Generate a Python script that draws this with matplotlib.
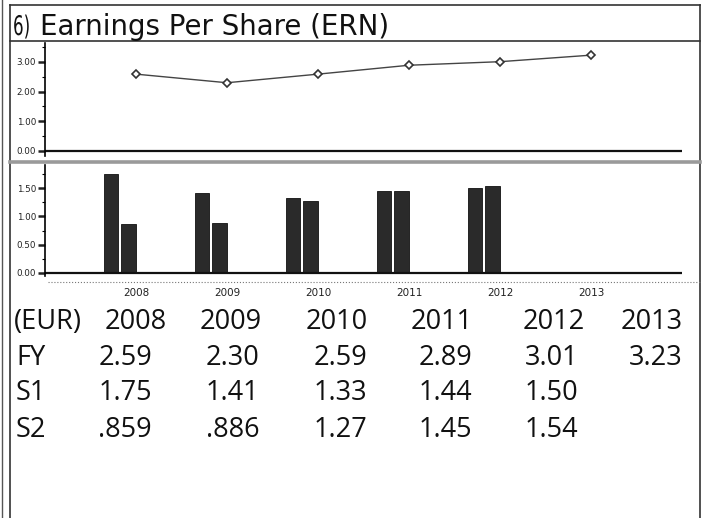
import numpy as np
import matplotlib.pyplot as plt
from matplotlib.lines import Line2D
from matplotlib.patches import PathPatch
from matplotlib.textpath import TextPath
from matplotlib.font_manager import FontProperties
from matplotlib.transforms import Affine2D
from matplotlib.ticker import MultipleLocator, FormatStrFormatter

years = [2008, 2009, 2010, 2011, 2012, 2013]
fy = [2.59, 2.30, 2.59, 2.89, 3.01, 3.23]
s1 = [1.75, 1.41, 1.33, 1.44, 1.50]
s2 = [0.859, 0.886, 1.27, 1.45, 1.54]

fy_txt = ["2.59", "2.30", "2.59", "2.89", "3.01", "3.23"]
s1_txt = ["1.75", "1.41", "1.33", "1.44", "1.50"]
s2_txt = [".859", ".886", "1.27", "1.45", "1.54"]

W, H = 705, 518
fig = plt.figure(figsize=(W / 100, H / 100), dpi=100)


def fx(x):
    return x / W


def fy_(y):
    return 1 - y / H


def axes_px(x0, y0, x1, y1):
    return [fx(x0), fy_(y1), (x1 - x0) / W, (y1 - y0) / H]


dark = "#2a2a2a"

# upper panel: FY line
ax1 = fig.add_axes(axes_px(45, 43, 682, 156))
ax1.plot(years, fy, color="#444444", lw=1.0, marker="D", ms=4,
         mfc="white", mec="#333333", mew=1.2)
ax1.axhline(0, color="#111111", lw=1.6)
ax1.set_xlim(2007, 2014)
ax1.set_ylim(-0.17, 3.64)
ax1.yaxis.set_major_locator(MultipleLocator(1))
ax1.yaxis.set_minor_locator(MultipleLocator(0.5))
ax1.yaxis.set_major_formatter(FormatStrFormatter("%.2f"))

# lower panel: half-year bars
ax2 = fig.add_axes(axes_px(45, 165, 682, 276))
x = np.array(years[:len(s1)])
ax2.bar(x - 0.352, s1, width=0.155, align="edge", color=dark, edgecolor="#111111", lw=0.6)
ax2.bar(x - 0.165, s2, width=0.16, align="edge", color=dark, edgecolor="#111111", lw=0.6)
ax2.axhline(0, color="#111111", lw=1.6)
ax2.set_xlim(2007, 2014)
ax2.set_ylim(-0.053, 1.906)
ax2.yaxis.set_major_locator(MultipleLocator(0.5))
ax2.yaxis.set_minor_locator(MultipleLocator(0.25))
ax2.yaxis.set_major_formatter(FormatStrFormatter("%.2f"))
ax2.set_xticks(years)
ax2.set_xticklabels([str(y) for y in years])

for ax in (ax1, ax2):
    for s in ("top", "right", "bottom"):
        ax.spines[s].set_visible(False)
    ax.spines["left"].set_linewidth(1.2)
    ax.patch.set_alpha(0)
    ax.tick_params(axis="y", which="major", length=5, width=1.8, labelsize=6.3,
                   pad=1.5, colors="#222222")
    ax.tick_params(axis="y", which="minor", length=2.5, width=0.8)
ax1.tick_params(axis="x", bottom=False, labelbottom=False)
ax2.tick_params(axis="x", length=0, labelsize=7.5, pad=9, colors="#222222")

# frame lines
lines = [
    ((10, 700), (5, 5), 1.2, "-", "#333333"),
    ((10, 700), (41, 41), 1.2, "-", "#333333"),
    ((10, 10), (5, 518), 1.2, "-", "#333333"),
    ((2, 2), (0, 518), 1.0, "-", "#555555"),
    ((700, 700), (5, 518), 1.2, "-", "#333333"),
    ((10, 700), (162, 162), 2.6, "-", "#9a9a9a"),
    ((48, 700), (282, 282), 0.8, ":", "#777777"),
]
for xs, ys, lw, ls, c in lines:
    fig.add_artist(Line2D([fx(v) for v in xs], [fy_(v) for v in ys],
                          lw=lw, ls=ls, color=c))

# title: narrow "6)" badge drawn as a squeezed text path (pixel units)
tp = TextPath((0, 0), "6)", size=27, prop=FontProperties(family="DejaVu Sans"))
tr = Affine2D().scale(0.62, 1.0).translate(13, H - 35)
badge = PathPatch(tr.transform_path(tp), facecolor="#111111", edgecolor="none",
                  transform=Affine2D().scale(1 / W, 1 / H) + fig.transFigure)
fig.add_artist(badge)
fig.text(fx(40), fy_(35), "Earnings Per Share (ERN)", fontsize=19.9,
         family="DejaVu Sans", color="#111111", va="baseline", ha="left")

# table
tfont = dict(fontsize=19.5, family="Open Sans", color="#111111", va="baseline")
head_right = [167, 262, 368, 473, 585, 683]
val_right = [152, 259, 367, 472, 578, 683]
rows_y = [329, 365, 400, 437]

fig.text(fx(14), fy_(rows_y[0]), "(EUR)", ha="left", **tfont)
for xr, y in zip(head_right, years):
    fig.text(fx(xr), fy_(rows_y[0]), str(y), ha="right", **tfont)

for label, vals, ry in zip(["FY", "S1", "S2"], [fy_txt, s1_txt, s2_txt], rows_y[1:]):
    fig.text(fx(16), fy_(ry), label, ha="left", **tfont)
    for xr, v in zip(val_right, vals):
        fig.text(fx(xr), fy_(ry), v, ha="right", **tfont)

plt.savefig("out.png", dpi=100)
